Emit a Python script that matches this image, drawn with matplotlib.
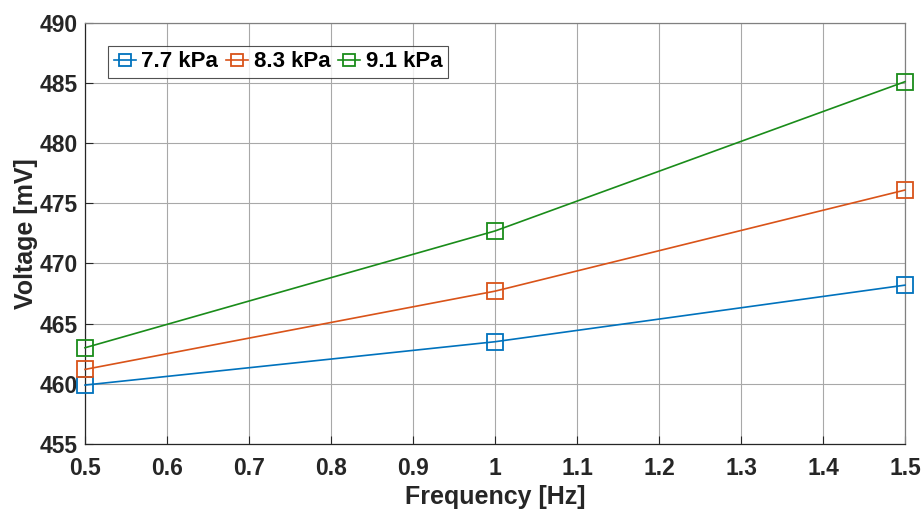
import matplotlib
matplotlib.use("Agg")
import matplotlib.pyplot as plt

freq_hz = [0.5, 1.0, 1.5]
series_labels = ["7.7 kPa", "8.3 kPa", "9.1 kPa"]
voltage_77 = [459.9, 463.5, 468.2]
voltage_83 = [461.2, 467.7, 476.1]
voltage_91 = [463.0, 472.7, 485.1]
x_ticks = [0.5, 0.6, 0.7, 0.8, 0.9, 1.0, 1.1, 1.2, 1.3, 1.4, 1.5]
x_tick_labels = ["0.5", "0.6", "0.7", "0.8", "0.9", "1", "1.1", "1.2", "1.3", "1.4", "1.5"]
y_ticks = [455, 460, 465, 470, 475, 480, 485, 490]

colors = ["#0072BD", "#D95319", "#1A8C1A"]
text_color = "#262626"

plt.rcParams["font.family"] = ["Liberation Sans", "DejaVu Sans"]
plt.rcParams["font.weight"] = "bold"

fig = plt.figure(figsize=(9.23, 5.11), dpi=100)
ax = fig.add_axes([0.0921, 0.131, 0.8884, 0.8246])

for vals, label, color in zip([voltage_77, voltage_83, voltage_91], series_labels, colors):
    ax.plot(freq_hz, vals, color=color, linewidth=1.2, marker="s",
            markersize=11, markerfacecolor="none", markeredgewidth=1.3,
            label=label, clip_on=False, zorder=3)

ax.set_xlim(0.5, 1.5)
ax.set_ylim(455, 490)
ax.set_xticks(x_ticks)
ax.set_xticklabels(x_tick_labels)
ax.set_yticks(y_ticks)
ax.grid(True, color="#a8a8a8", linewidth=0.8)
ax.set_axisbelow(True)

ax.tick_params(direction="in", length=6, width=0.8, colors=text_color,
               labelsize=16.5)
ax.tick_params(axis="x", pad=9)
ax.tick_params(axis="y", pad=5)
for lbl in ax.get_xticklabels() + ax.get_yticklabels():
    lbl.set_fontweight("bold")
for side, spine in ax.spines.items():
    spine.set_color("#262626" if side in ("left", "bottom") else "#808080")
    spine.set_linewidth(0.9)

ax.set_xlabel("Frequency [Hz]", fontsize=18, fontweight="bold", color=text_color, labelpad=4)
ax.set_ylabel("Voltage [mV]", fontsize=18, fontweight="bold", color=text_color, labelpad=1)

leg = ax.legend(loc="upper left", bbox_to_anchor=(0.028, 0.945), ncol=3,
                fontsize=16, frameon=True, fancybox=False, edgecolor="#262626",
                handlelength=1.0, handletextpad=0.25, columnspacing=0.35,
                borderpad=0.25, borderaxespad=0.0, markerscale=0.8)
leg.get_frame().set_linewidth(0.8)
for t in leg.get_texts():
    t.set_fontweight("bold")
    t.set_color("black")

fig.savefig("out.png", dpi=100)
